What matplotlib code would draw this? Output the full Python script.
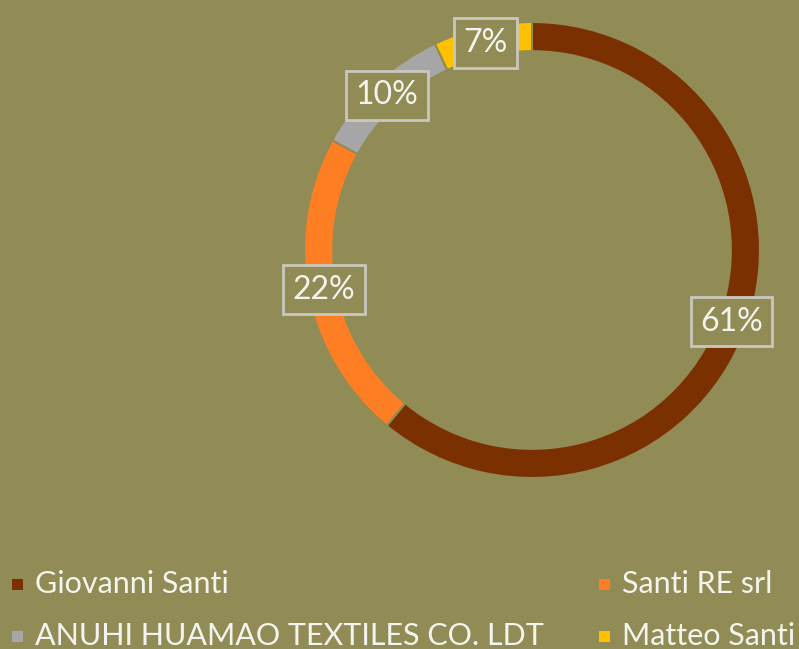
import matplotlib.pyplot as plt
from matplotlib.patches import Rectangle

# data
owners = ["Giovanni Santi", "Santi RE srl", "ANUHI HUAMAO TEXTILES CO. LDT", "Matteo Santi"]
shares = [61, 22, 10, 7]
colors = ["#7A3000", "#FE7F23", "#A6A6A6", "#FFC000"]

bg = "#918B55"
W, H = 799, 649

plt.rcParams['font.family'] = ['Lato', 'DejaVu Sans']

fig = plt.figure(figsize=(W / 100, H / 100), dpi=100, facecolor=bg)

# donut, centre and radius in pixels (from top-left)
cx, cy, R = 532, 250, 228
ax = fig.add_axes([(cx - R) / W, (H - cy - R) / H, 2 * R / W, 2 * R / H])
ax.set_facecolor(bg)

wedges, texts, pcts = ax.pie(
    shares,
    colors=colors,
    startangle=90,
    counterclock=False,
    radius=1,
    wedgeprops=dict(width=0.128, edgecolor=bg, linewidth=1.5),
    autopct=lambda p: "%.0f%%" % p,
    pctdistance=0.93,
    textprops=dict(color="#F4F4EE", fontsize=23),
)
for t in pcts:
    t.set_bbox(dict(boxstyle="square,pad=0.3", fc=bg, ec="#C8C8BE", lw=2))
ax.set_xlim(-1, 1)
ax.set_ylim(-1, 1)
ax.set_axis_off()

# legend, laid out row by row like the original
leg_x = [35, 622]
leg_y = [593, 645]
for i, name in enumerate(owners):
    col = i % 2
    row = i // 2
    x = leg_x[col]
    y = leg_y[row]
    fig.add_artist(Rectangle(((x - 23) / W, (H - y + 3) / H), 11 / W, 11 / H,
                             transform=fig.transFigure, fc=colors[i], ec="none"))
    fig.text(x / W, (H - y) / H, name, color="#F4F4EE", fontsize=22,
             ha="left", va="baseline")

fig.savefig("out.png", dpi=100, facecolor=bg)
